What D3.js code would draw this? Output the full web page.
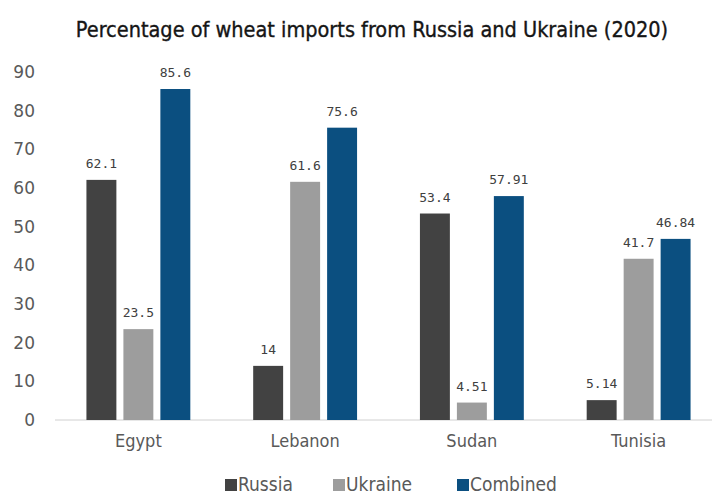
<!DOCTYPE html>
<html><head><meta charset="utf-8">
<script src="https://cdn.jsdelivr.net/npm/d3@7"></script>
<style>body{margin:0;background:#fff}</style>
</head><body>
<svg id="c" width="712" height="497"></svg>
<script>
const categories = ["Egypt", "Lebanon", "Sudan", "Tunisia"];
const seriesNames = ["Russia", "Ukraine", "Combined"];
const russia = [62.1, 14, 53.4, 5.14];
const ukraine = [23.5, 61.6, 4.51, 41.7];
const combined = [85.6, 75.6, 57.91, 46.84];
const labelRussia = ["62.1", "14", "53.4", "5.14"];
const labelUkraine = ["23.5", "61.6", "4.51", "41.7"];
const labelCombined = ["85.6", "75.6", "57.91", "46.84"];
const yTicks = [0, 10, 20, 30, 40, 50, 60, 70, 80, 90];
const colors = ["#424242", "#9d9d9d", "#0b4f80"];

const values = [russia, ukraine, combined];
const labels = [labelRussia, labelUkraine, labelCombined];

const svg = d3.select("#c");
const y = d3.scaleLinear().domain([0, 90]).range([420, 72]);
const x0 = d3.scaleBand().domain(categories).range([55, 722]).paddingInner(0.377).paddingOuter(0.1885);
const x1 = d3.scaleBand().domain(seriesNames).range([0, x0.bandwidth()]).paddingInner(0.19);

svg.append("text").attr("x", 372).attr("y", 37).attr("text-anchor", "middle")
  .attr("font-family", "DejaVu Sans Condensed, DejaVu Sans").attr("font-size", 21.5)
  .attr("fill", "#151515").attr("stroke", "#151515").attr("stroke-width", 0.35)
  .text("Percentage of wheat imports from Russia and Ukraine (2020)");

const yAxis = svg.append("g").attr("transform", "translate(35,0)")
  .call(d3.axisLeft(y).tickValues(yTicks).tickSize(0).tickPadding(0));
yAxis.select(".domain").remove();
yAxis.selectAll("text").attr("font-family", "DejaVu Sans").attr("font-size", 17).attr("fill", "#595959");

svg.append("line").attr("x1", 55).attr("x2", 712).attr("y1", y(0)).attr("y2", y(0)).attr("stroke", "#d0d0d0").attr("stroke-width", 1);

const xAxis = svg.append("g").attr("transform", `translate(0,${y(0)})`)
  .call(d3.axisBottom(x0).tickSize(0).tickPadding(14));
xAxis.select(".domain").remove();
xAxis.selectAll("text").attr("font-family", "DejaVu Sans Condensed, DejaVu Sans").attr("font-size", 18).attr("fill", "#595959");

seriesNames.forEach((s, si) => {
  const g = svg.append("g");
  g.selectAll("rect").data(categories).join("rect")
    .attr("x", c => x0(c) + x1(s)).attr("width", x1.bandwidth())
    .attr("y", (c, i) => y(values[si][i])).attr("height", (c, i) => y(0) - y(values[si][i]))
    .attr("fill", colors[si]);
  g.selectAll("text").data(categories).join("text")
    .attr("x", c => x0(c) + x1(s) + x1.bandwidth() / 2)
    .attr("y", (c, i) => y(values[si][i]) - 12)
    .attr("text-anchor", "middle")
    .attr("font-family", "DejaVu Sans Mono").attr("font-size", 13).attr("fill", "#404040")
    .text((c, i) => labels[si][i]);
});

const legend = svg.append("g");
const legX = [225, 333, 457];
seriesNames.forEach((s, i) => {
  legend.append("rect").attr("x", legX[i]).attr("y", 479).attr("width", 12).attr("height", 12).attr("fill", colors[i]);
  legend.append("text").attr("x", legX[i] + 13).attr("y", 491)
    .attr("font-family", "DejaVu Sans Condensed, DejaVu Sans").attr("font-size", 19).attr("fill", "#595959").text(s);
});
</script>
</body></html>
